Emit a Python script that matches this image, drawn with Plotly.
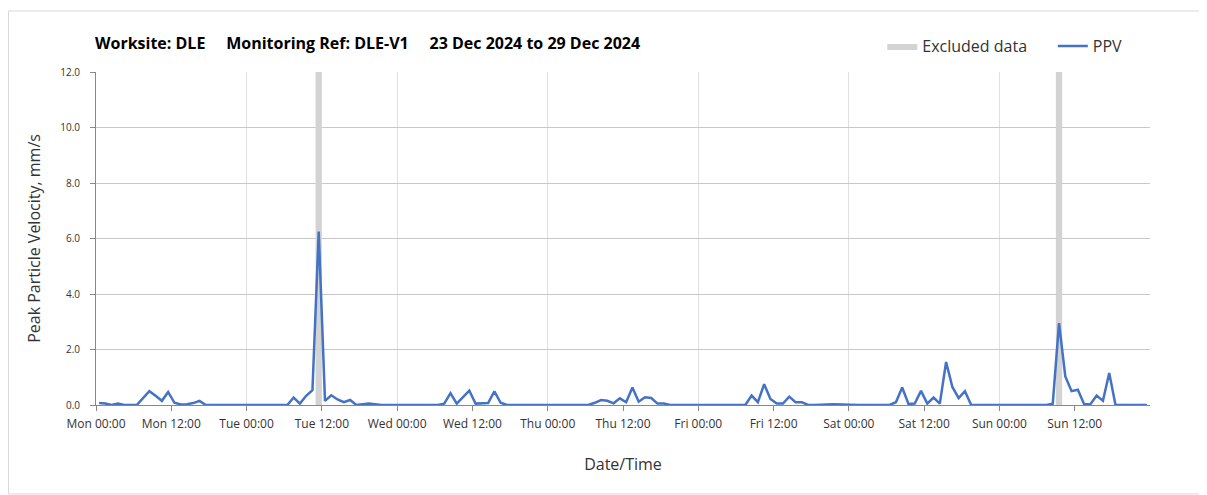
import pandas as pd
import plotly.graph_objects as go

# hourly PPV readings (mm/s), one list per day, stamped at HH:30
mon = [0.07, 0.05, 0.0, 0.05, 0.0, 0.0, 0.0, 0.25, 0.5, 0.33, 0.15, 0.47,
       0.08, 0.02, 0.03, 0.07, 0.15, 0.0, 0.0, 0.0, 0.0, 0.0, 0.0, 0.0]
tue = [0.0, 0.0, 0.0, 0.0, 0.0, 0.0, 0.0, 0.27, 0.05, 0.33, 0.53, 6.25,
       0.15, 0.35, 0.2, 0.1, 0.18, 0.0, 0.02, 0.05, 0.03, 0.0, 0.0, 0.0]
wed = [0.0, 0.0, 0.0, 0.0, 0.0, 0.0, 0.0, 0.05, 0.43, 0.05, 0.28, 0.52,
       0.05, 0.06, 0.07, 0.49, 0.08, 0.0, 0.0, 0.0, 0.0, 0.0, 0.0, 0.0]
thu = [0.0, 0.0, 0.0, 0.0, 0.0, 0.0, 0.0, 0.08, 0.18, 0.15, 0.06, 0.24,
       0.1, 0.63, 0.12, 0.28, 0.25, 0.05, 0.05, 0.0, 0.0, 0.0, 0.0, 0.0]
fri = [0.0, 0.0, 0.0, 0.0, 0.0, 0.0, 0.0, 0.0, 0.34, 0.1, 0.75, 0.22,
       0.05, 0.05, 0.3, 0.1, 0.1, 0.0, 0.0, 0.0, 0.02, 0.03, 0.02, 0.0]
sat = [0.0, 0.0, 0.0, 0.0, 0.0, 0.0, 0.0, 0.1, 0.63, 0.04, 0.05, 0.51,
       0.05, 0.27, 0.05, 1.55, 0.65, 0.25, 0.5, 0.0, 0.0, 0.0, 0.0, 0.0]
sun = [0.0, 0.0, 0.0, 0.0, 0.0, 0.0, 0.0, 0.0, 0.05, 2.95, 1.03, 0.5,
       0.55, 0.03, 0.03, 0.34, 0.15, 1.15, 0.0, 0.0, 0.0, 0.0, 0.0, 0.0]

ppv = mon + tue + wed + thu + fri + sat + sun
times = pd.date_range("2024-12-23 00:30", periods=len(ppv), freq="h")

excl_start = ["2024-12-24 11:00", "2024-12-29 09:00"]
excl_end = ["2024-12-24 12:00", "2024-12-29 10:00"]

y_max = 12
x_range = ["2024-12-23 00:00", "2024-12-30 00:00"]
tick_times = pd.date_range("2024-12-23 00:00", "2024-12-29 12:00", freq="12h")
tick_text = [t.strftime("%a %H:%M") for t in tick_times]

sp = "&nbsp;" * 5
title = "Worksite: DLE" + sp + "Monitoring Ref: DLE-V1" + sp + "23 Dec 2024 to 29 Dec 2024"

# excluded periods as filled rectangles
bx, by = [], []
for s, e in zip(excl_start, excl_end):
    bx += [s, s, e, e, s, None]
    by += [0, y_max, y_max, 0, 0, None]

fig = go.Figure()
fig.add_trace(go.Scatter(x=bx, y=by, mode="lines", fill="toself",
                         fillcolor="#d3d3d3", line=dict(width=0, color="#d3d3d3"),
                         name="Excluded data" + "&nbsp;" * 5, hoverinfo="skip"))
fig.add_trace(go.Scatter(x=times, y=ppv, mode="lines", name="PPV",
                         line=dict(color="#4472c4", width=2.5)))

# page has an 8px body margin, so the figure is sized/margined to compensate
fig.update_layout(
    width=1199, height=487,
    margin=dict(l=88, r=57, t=64, b=90),
    paper_bgcolor="white", plot_bgcolor="white",
    font=dict(family="Open Sans", color="#333333"),
    title=dict(text=title, x=87/1199, xanchor="left", y=0.928, yanchor="middle",
               font=dict(size=16, color="black", family="Open Sans", weight="bold")),
    legend=dict(orientation="h", x=0.746, xanchor="left", y=1.078, yanchor="middle",
                font=dict(size=16, color="#333333"), bgcolor="rgba(0,0,0,0)"),
    showlegend=True,
    shapes=[
        dict(type="rect", xref="paper", yref="paper",
             x0=-0.083, x1=1.053, y0=-0.267, y1=1.183,
             line=dict(color="#d9d9d9", width=1), layer="below"),
    ],
)
fig.update_xaxes(
    range=x_range, type="date",
    tickvals=tick_times, ticktext=tick_text,
    ticks="outside", ticklen=5, tickcolor="#888888", ticklabelstandoff=3,
    tickfont=dict(size=12, color="#333333"),
    showgrid=False, showline=True, linecolor="#888888",
    minor=dict(dtick=86400000, tick0="2024-12-23", showgrid=True,
               gridcolor="#e0e0e0", ticks=""),
    title=dict(text="Date/Time", font=dict(size=16, color="#333333"), standoff=27),
    zeroline=False,
)
fig.update_yaxes(
    range=[0, y_max], dtick=2, tickformat=".1f",
    ticks="outside", ticklen=5, tickcolor="#888888", ticklabelstandoff=8,
    tickfont=dict(size=10, color="#333333"),
    showgrid=True, gridcolor="#c8c8c8", showline=True, linecolor="#888888",
    title=dict(text="Peak Particle Velocity, mm/s", font=dict(size=16, color="#333333"),
               standoff=15),
    zeroline=False,
)

fig.write_html("out.html")
